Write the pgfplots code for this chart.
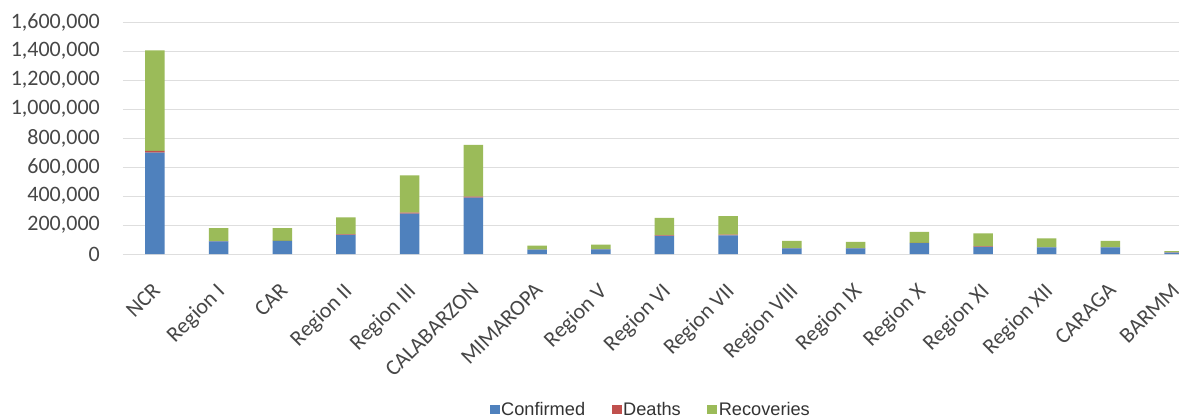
\documentclass[border=0pt]{standalone}
\usepackage{fontspec}
\setmainfont{Carlito}
\newfontfamily\legendfont{Liberation Sans}
\usepackage{pgfplots}
\pgfplotsset{compat=1.18}
\definecolor{confblue}{HTML}{4F81BD}
\definecolor{deathred}{HTML}{C0504D}
\definecolor{recgreen}{HTML}{9BBB59}

\begin{document}
\begin{tikzpicture}
\path[use as bounding box, fill=white] (-123bp,-165bp) rectangle (1056bp,254bp);
\begin{axis}[
  scale only axis,
  width=1083bp, height=232bp,
  ybar stacked,
  bar width=19.5bp,
  xmin=-0.5, xmax=16.5,
  ymin=0, ymax=1600000,
  scaled y ticks=false,
  xtick={0,...,16},
  xticklabels={NCR, Region I, CAR, Region II, Region III, CALABARZON, MIMAROPA, Region V, Region VI, Region VII, Region VIII, Region IX, Region X, Region XI, Region XII, CARAGA, BARMM},
  ytick={0,200000,400000,600000,800000,1000000,1200000,1400000,1600000},
  yticklabels={0,{200,000},{400,000},{600,000},{800,000},{1,000,000},{1,200,000},{1,400,000},{1,600,000}},
  axis line style={draw=none},
  major tick length=0pt,
  ymajorgrids,
  grid style={black!13, line width=0.8bp},
  tick label style={font=\fontsize{22bp}{26bp}\selectfont, text=black!72},
  yticklabel style={anchor=east, inner xsep=0pt, xshift=-23bp},
  xticklabel style={rotate=45, anchor=north east, inner sep=0pt, xshift=-22bp, yshift=-17bp},
  legend columns=3,
  legend style={at={(0.4871,-0.672)}, anchor=center, draw=none, fill=none,
    font=\legendfont\fontsize{18.2bp}{21bp}\selectfont, text=black!80,
    /tikz/every even column/.append style={column sep=25bp},
    nodes={inner xsep=1.5bp}},
  legend image code/.code={\fill[#1] (0bp,-4.5bp) rectangle (10bp,4.5bp);},
]
\addplot[fill=confblue, draw=none] coordinates {
  (0,700000) (1,87000) (2,90000) (3,132000) (4,278000) (5,388000) (6,30000) (7,32000)
  (8,125000) (9,128000) (10,39000) (11,39000) (12,75000) (13,50000) (14,45000) (15,45000) (16,10000)};
\addplot[fill=deathred, draw=none] coordinates {
  (0,11000) (1,1500) (2,1300) (3,3000) (4,7000) (5,8000) (6,700) (7,800)
  (8,3000) (9,5500) (10,700) (11,1200) (12,2000) (13,2000) (14,1500) (15,1300) (16,400)};
\addplot[fill=recgreen, draw=none] coordinates {
  (0,693000) (1,89500) (2,86700) (3,118000) (4,257000) (5,357000) (6,27000) (7,32000)
  (8,122000) (9,127500) (10,51300) (11,43800) (12,75000) (13,91000) (14,60500) (15,44700) (16,9600)};
\legend{Confirmed, Deaths, Recoveries}
\end{axis}
\end{tikzpicture}
\end{document}
